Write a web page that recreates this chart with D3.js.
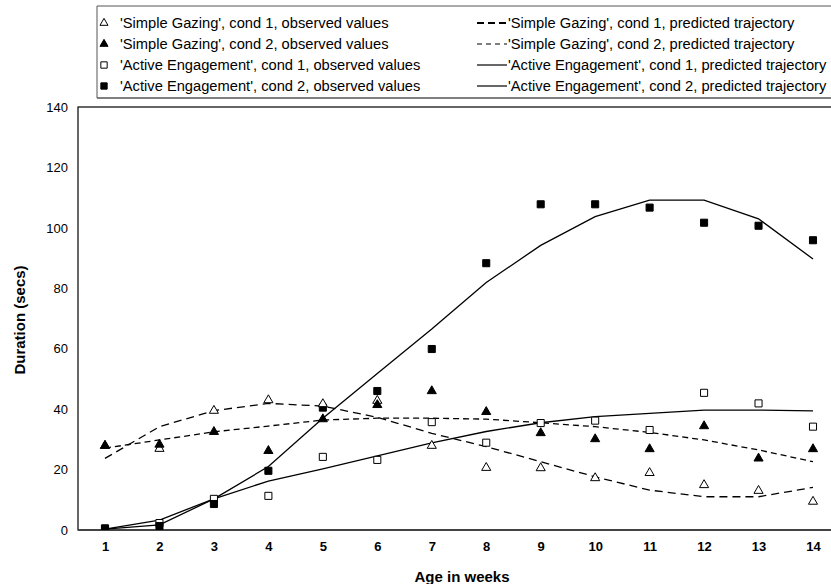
<!DOCTYPE html>
<html>
<head>
<meta charset="utf-8">
<script src="https://cdn.jsdelivr.net/npm/d3@7"></script>
<style>
  html, body { margin: 0; padding: 0; background: #fff; }
  svg { display: block; }
  text { font-family: "Liberation Sans", Arial, sans-serif; fill: #000; }
</style>
</head>
<body>
<svg id="chart" width="831" height="584"></svg>
<script>
// ---- data ----
const weeks = [1,2,3,4,5,6,7,8,9,10,11,12,13,14];
const yTicks = [0,20,40,60,80,100,120,140];

const sgCond1Obs  = [27.9, 26.9, 39.5, 43.0, 41.7, 42.8, 27.9, 20.6, 20.5, 17.2, 18.9, 14.9, 13.0, 9.4];
const sgCond2Obs  = [27.9, 28.3, 32.5, 26.2, 36.7, 41.4, 46.0, 39.1, 32.1, 30.1, 26.8, 34.4, 23.7, 26.8];
const aeCond1Obs  = [0.5, 2.3, 10.3, 11.3, 24.2, 23.2, 35.7, 28.9, 35.4, 36.2, 33.1, 45.4, 41.9, 34.2];
const aeCond2Obs  = [0.5, 1.3, 8.6, 19.6, 40.5, 46.0, 59.9, 88.3, 107.8, 107.8, 106.7, 101.7, 100.7, 95.9];

const sgCond1Pred = [23.7, 34.2, 39.5, 41.9, 41.0, 37.3, 32.0, 27.6, 22.6, 17.6, 13.2, 11.0, 11.0, 14.1];
const sgCond2Pred = [27.1, 29.8, 32.5, 34.4, 36.4, 37.0, 37.0, 36.7, 35.5, 34.2, 32.3, 29.8, 26.5, 22.6];
const aeCond1Pred = [0.3, 3.3, 10.3, 16.2, 20.2, 24.5, 28.8, 32.6, 35.5, 37.5, 38.6, 39.7, 39.7, 39.4];
const aeCond2Pred = [0.3, 1.7, 10.3, 21.0, 37.0, 51.8, 66.5, 81.9, 94.2, 103.7, 109.2, 109.2, 103.0, 89.7];

const legendLabels = [
  "'Simple Gazing', cond 1, observed values",
  "'Simple Gazing', cond 2, observed values",
  "'Active Engagement', cond 1, observed values",
  "'Active Engagement', cond 2, observed values",
  "'Simple Gazing', cond 1, predicted trajectory",
  "'Simple Gazing', cond 2, predicted trajectory",
  "'Active Engagement', cond 1, predicted trajectory",
  "'Active Engagement', cond 2, predicted trajectory"
];

// ---- layout ----
const svg = d3.select("#chart");
const plot = {left: 78, top: 107, bottom: 530, right: 842};

const x = d3.scaleLinear().domain([1, 14]).range([105, 813]);
const y = d3.scaleLinear().domain([0, 140]).range([plot.bottom, plot.top]);

// plot frame
svg.append("rect")
  .attr("x", plot.left).attr("y", plot.top)
  .attr("width", plot.right - plot.left).attr("height", plot.bottom - plot.top)
  .attr("fill", "none").attr("stroke", "#000").attr("stroke-width", 1.2);
svg.append("line")
  .attr("x1", plot.left).attr("x2", plot.right)
  .attr("y1", plot.bottom).attr("y2", plot.bottom)
  .attr("stroke", "#444").attr("stroke-width", 2);

// axes
const xAxis = svg.append("g")
  .attr("transform", `translate(0,${plot.bottom})`)
  .call(d3.axisBottom(x).tickValues(weeks).tickSize(0).tickPadding(12).tickFormat(d3.format("d")));
xAxis.select(".domain").remove();
xAxis.selectAll("text").attr("font-size", 13).attr("font-weight", "bold")
  .attr("font-family", "Liberation Sans, Arial, sans-serif");

const yAxis = svg.append("g")
  .attr("transform", `translate(${plot.left},0)`)
  .call(d3.axisLeft(y).tickValues(yTicks).tickSize(0).tickPadding(10));
yAxis.select(".domain").remove();
yAxis.selectAll("text").attr("font-size", 13)
  .attr("font-family", "Liberation Sans, Arial, sans-serif");

// axis titles
svg.append("text")
  .attr("x", 462).attr("y", 582)
  .attr("text-anchor", "middle")
  .attr("font-size", 15).attr("font-weight", "bold")
  .text("Age in weeks");
svg.append("text")
  .attr("transform", `translate(25,320) rotate(-90)`)
  .attr("text-anchor", "middle")
  .attr("font-size", 15).attr("font-weight", "bold")
  .text("Duration (secs)");

// clip for plot content
svg.append("clipPath").attr("id", "clip")
  .append("rect").attr("x", plot.left).attr("y", plot.top - 10)
  .attr("width", plot.right - plot.left).attr("height", plot.bottom - plot.top + 10);
const g = svg.append("g").attr("clip-path", "url(#clip)");

// lines
const line = d3.line().x((d, i) => x(weeks[i])).y(d => y(d)).curve(d3.curveLinear);
const lineSeries = [
  {data: sgCond1Pred, dash: "8,5"},
  {data: sgCond2Pred, dash: "6,4"},
  {data: aeCond1Pred, dash: null},
  {data: aeCond2Pred, dash: null}
];
lineSeries.forEach(s => {
  g.append("path")
    .attr("d", line(s.data))
    .attr("fill", "none").attr("stroke", "#000").attr("stroke-width", 1.3)
    .attr("stroke-dasharray", s.dash);
});

// markers
const triSym = d3.symbol().type(d3.symbolTriangle).size(36);
const sqSym = d3.symbol().type(d3.symbolSquare).size(50);
const markerSeries = [
  {data: aeCond1Obs, sym: sqSym, fill: "#fff"},
  {data: aeCond2Obs, sym: sqSym, fill: "#000"},
  {data: sgCond1Obs, sym: triSym, fill: "#fff"},
  {data: sgCond2Obs, sym: triSym, fill: "#000"}
];
markerSeries.forEach(s => {
  g.selectAll(null).data(s.data).enter().append("path")
    .attr("d", s.sym())
    .attr("transform", (d, i) => `translate(${x(weeks[i])},${y(d)})`)
    .attr("fill", s.fill).attr("stroke", "#000").attr("stroke-width", 1);
});

// legend
const lg = svg.append("g");
lg.append("line").attr("x1", 97).attr("x2", 831).attr("y1", 6).attr("y2", 6).attr("stroke", "#555").attr("stroke-width", 1);
lg.append("line").attr("x1", 97).attr("x2", 831).attr("y1", 98).attr("y2", 98).attr("stroke", "#555").attr("stroke-width", 1.5);
lg.append("line").attr("x1", 97).attr("x2", 97).attr("y1", 6).attr("y2", 98).attr("stroke", "#555").attr("stroke-width", 1);

const rowY = [23, 44, 65, 86];
const legendMarkers = [
  {sym: d3.symbol().type(d3.symbolTriangle).size(28), fill: "#fff"},
  {sym: d3.symbol().type(d3.symbolTriangle).size(28), fill: "#000"},
  {sym: d3.symbol().type(d3.symbolSquare).size(40), fill: "#fff"},
  {sym: d3.symbol().type(d3.symbolSquare).size(40), fill: "#000"}
];
legendMarkers.forEach((m, i) => {
  lg.append("path").attr("d", m.sym())
    .attr("transform", `translate(104,${rowY[i]})`)
    .attr("fill", m.fill).attr("stroke", "#000").attr("stroke-width", 1);
  lg.append("text").attr("x", 120).attr("y", rowY[i] + 5)
    .attr("font-size", 14.7).text(legendLabels[i]);
});
const legendLines = [
  {dash: "7,4", w: 1.8},
  {dash: "5,4", w: 1.1},
  {dash: null, w: 1.2},
  {dash: null, w: 1.2}
];
legendLines.forEach((l, i) => {
  lg.append("line").attr("x1", 477).attr("x2", 507)
    .attr("y1", rowY[i]).attr("y2", rowY[i])
    .attr("stroke", "#000").attr("stroke-width", l.w)
    .attr("stroke-dasharray", l.dash);
  lg.append("text").attr("x", 508).attr("y", rowY[i] + 5)
    .attr("font-size", 14.7).text(legendLabels[i + 4]);
});
</script>
</body>
</html>
